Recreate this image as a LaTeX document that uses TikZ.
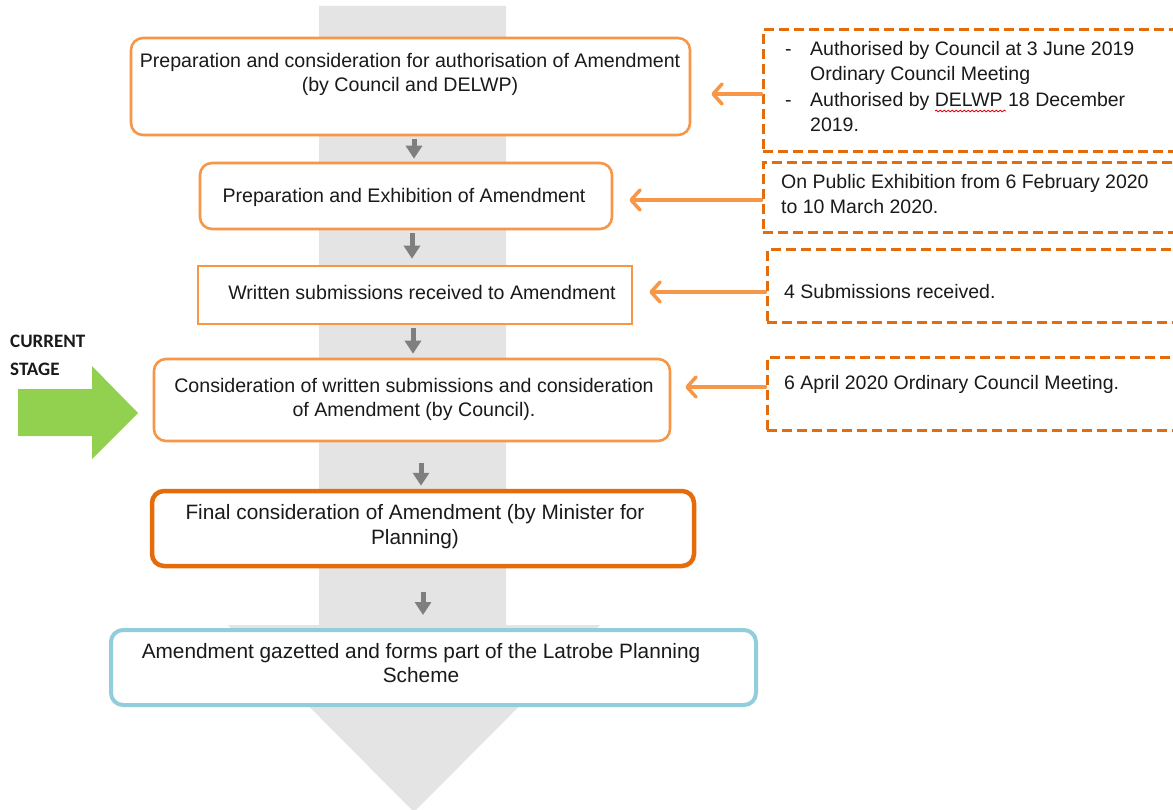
\documentclass[tikz,border=0pt]{standalone}
\usepackage{fontspec}
\setmainfont{Liberation Sans}
\newfontfamily\calfont{Carlito}
\usetikzlibrary{arrows.meta,decorations.pathmorphing}
\definecolor{lorange}{HTML}{F79646}
\definecolor{dorange}{HTML}{E46C0A}
\definecolor{lblue}{HTML}{92CDDC}
\definecolor{bggray}{HTML}{E4E4E4}
\definecolor{agray}{HTML}{7F7F7F}
\definecolor{lgreen}{HTML}{92D050}
\definecolor{txt}{HTML}{1A1A1A}
\begin{document}
\begin{tikzpicture}[x=1pt,y=-1pt,
  stagebox/.style={draw=lorange,line width=2.6pt,rounded corners=12pt,fill=white,inner sep=0pt},
  squarebox/.style={draw=lorange,line width=2.6pt,fill=white,inner sep=0pt},
  finalbox/.style={draw=dorange,line width=4.5pt,rounded corners=12pt,fill=white,inner sep=0pt},
  endbox/.style={draw=lblue,line width=4pt,rounded corners=12pt,fill=white,inner sep=0pt},
  notebox/.style={draw=dorange,line width=3pt,dash pattern=on 10pt off 5pt,inner sep=0pt},
  boxtext/.style={font=\fontsize{19.6}{24.5}\selectfont,text=txt,align=center,inner sep=0pt},
  bigtext/.style={font=\fontsize{20.8}{24.5}\selectfont,text=txt,align=center,inner sep=0pt},
  notetext/.style={font=\fontsize{19.5}{25.3}\selectfont,text=txt,align=left,anchor=west,inner sep=0pt},
  garrow/.style={draw=agray,line width=5pt,-{Triangle[length=13pt,width=16pt]}},
  oarrow/.style={draw=lorange,line width=3.5pt,line cap=round,-{Straight Barb[length=9pt,width=20pt,line cap=round,line join=round]}}
]
\clip (0,0) rectangle (1173,810);
\fill[white] (0,0) rectangle (1173,810);

% big background arrow
\fill[bggray] (319,6) -- (506,6) -- (506,625) -- (600,625) -- (414,812) -- (228,625) -- (319,625) -- cycle;

% green current stage arrow
\fill[lgreen] (18,389) -- (92,389) -- (92,366) -- (138,413) -- (92,459) -- (92,436) -- (18,436) -- cycle;
\node[font=\calfont\bfseries\fontsize{19}{28}\selectfont,text=txt,align=left,anchor=west,inner sep=0pt] (cs) at (10,355) {CURRENT\\STAGE};

% stage boxes
\node[stagebox,minimum width=559pt,minimum height=97pt] (b1) at (410.5,86.5) {};
\node[boxtext] (t1) at (410,74.5) {Preparation and consideration for authorisation of Amendment\\(by Council and DELWP)};
\node[stagebox,minimum width=412pt,minimum height=66pt] (b2) at (406,196) {};
\node[boxtext] (t2) at (404,197.5) {Preparation and Exhibition of Amendment};
\node[squarebox,minimum width=434pt,minimum height=58pt] (b3) at (415,295) {};
\node[boxtext] (t3) at (422,292.5) {Written submissions received to Amendment};
\node[stagebox,minimum width=516pt,minimum height=82pt] (b4) at (412,400) {};
\node[boxtext] (t4) at (414,399.5) {Consideration of written submissions and consideration\\of Amendment (by Council).};
\node[finalbox,minimum width=542pt,minimum height=75pt] (b5) at (423,528.5) {};
\node[bigtext] (t5) at (415,526.5) {Final consideration of Amendment (by Minister for\\Planning)};
\node[endbox,minimum width=645pt,minimum height=75pt] (b6) at (433.5,667.5) {};
\node[bigtext] (t6) at (421,663) {Amendment gazetted and forms part of the Latrobe Planning\\Scheme};

% gray flow arrows
\draw[garrow,shorten <=3pt,shorten >=3pt] ([xshift=3.5pt]b1.south) -- ([xshift=3.5pt]b1.south |- b2.north);
\draw[garrow,shorten <=3pt,shorten >=6pt] ([xshift=6pt]b2.south) -- ([xshift=6pt]b2.south |- b3.north);
\draw[garrow,shorten <=3pt,shorten >=4pt] ([xshift=-2pt]b3.south) -- ([xshift=-2pt]b3.south |- b4.north);
\draw[garrow,shorten <=21pt,shorten >=3pt] ([xshift=9pt]b4.south) -- ([xshift=9pt]b4.south |- b5.north);
\draw[garrow,shorten <=24pt,shorten >=13pt] (b5.south) -- (b5.south |- b6.north);

% note boxes
\node[notebox,minimum width=417pt,minimum height=122pt] (d1) at (971.5,91) {};
\node[notetext] (n1) at (785,86.5) {\makebox[25pt][l]{-}Authorised by Council at 3 June 2019\\\hspace*{25pt}Ordinary Council Meeting\\\makebox[25pt][l]{-}Authorised by DELWP 18 December\\\hspace*{25pt}2019.};
\node[notebox,minimum width=417pt,minimum height=70pt] (d2) at (971.5,198) {};
\node[notetext] (n2) at (781,194) {On Public Exhibition from 6 February 2020\\to 10 March 2020.};
\node[notebox,minimum width=413pt,minimum height=73pt] (d3) at (973.5,286.5) {};
\node[notetext] (n3) at (784,292) {4 Submissions received.};
\node[notebox,minimum width=413pt,minimum height=72pt] (d4) at (973.5,394) {};
\node[notetext] (n4) at (784,384) {6 April 2020 Ordinary Council Meeting.};

% spell-check squiggle
\draw[red!85!black,line width=0.8pt,decorate,decoration={snake,amplitude=0.8pt,segment length=4pt}] (935,111) -- (1006,111);

% orange connectors
\draw[oarrow,shorten >=20pt] ([yshift=-3pt]d1.west) -- ([yshift=-3pt]d1.west -| b1.east);
\draw[oarrow,shorten >=16pt] ([yshift=-2pt]d2.west) -- ([yshift=-2pt]d2.west -| b2.east);
\draw[oarrow,shorten >=16pt] ([yshift=-5.5pt]d3.west) -- ([yshift=-5.5pt]d3.west -| b3.east);
\draw[oarrow,shorten >=14pt] ([yshift=7pt]d4.west) -- ([yshift=7pt]d4.west -| b4.east);
\end{tikzpicture}
\end{document}
